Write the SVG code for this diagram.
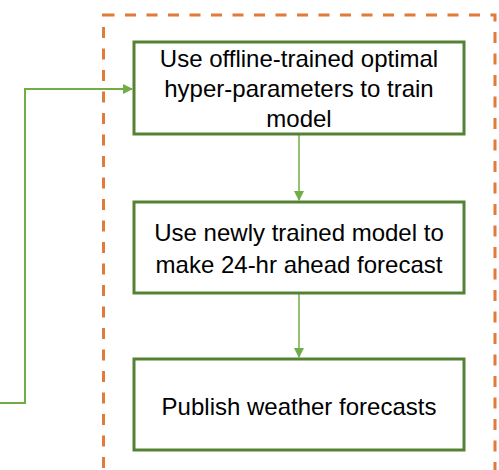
<svg xmlns="http://www.w3.org/2000/svg" width="499" height="470" viewBox="0 0 499 470">
  <style>
    .box { fill: #ffffff; stroke: #548235; stroke-width: 3; }
    .lbl { font-family: "Liberation Sans", Arial, sans-serif; font-size: 24px; fill: #000000; text-anchor: middle; }
    .link { fill: none; stroke: #70ad47; stroke-width: 2; }
    .flow { fill: none; stroke: #70ad47; stroke-width: 1.5; }
    .stage { fill: none; stroke: #e07b39; stroke-width: 3; stroke-dasharray: 11 10.5; }
  </style>
  <defs>
    <marker id="tri" markerWidth="10" markerHeight="10" refX="9" refY="5" orient="auto" markerUnits="userSpaceOnUse">
      <path d="M0,0 L10,5 L0,10 Z" fill="#70ad47"/>
    </marker>
  </defs>

  <rect width="499" height="470" fill="#ffffff"/>

  <!-- online stage boundary -->
  <rect class="stage" x="103.5" y="15" width="391.5" height="480"/>

  <g id="connectors">
    <polyline class="link" points="0,403 25,403 25,89 132,89" marker-end="url(#tri)"/>
    <line class="flow" x1="299" y1="135" x2="299" y2="200" marker-end="url(#tri)"/>
    <line class="flow" x1="299" y1="294" x2="299" y2="357" marker-end="url(#tri)"/>
  </g>

  <g id="train">
    <rect class="box" x="134" y="42" width="330" height="92"/>
    <text class="lbl" x="299" y="67">Use offline-trained optimal</text>
    <text class="lbl" x="299" y="97">hyper-parameters to train</text>
    <text class="lbl" x="299" y="127">model</text>
  </g>

  <g id="forecast">
    <rect class="box" x="134" y="202" width="330" height="91"/>
    <text class="lbl" x="299" y="241">Use newly trained model to</text>
    <text class="lbl" x="299" y="273">make 24-hr ahead forecast</text>
  </g>

  <g id="publish">
    <rect class="box" x="134" y="359" width="330" height="91"/>
    <text class="lbl" x="299" y="415">Publish weather forecasts</text>
  </g>
</svg>
